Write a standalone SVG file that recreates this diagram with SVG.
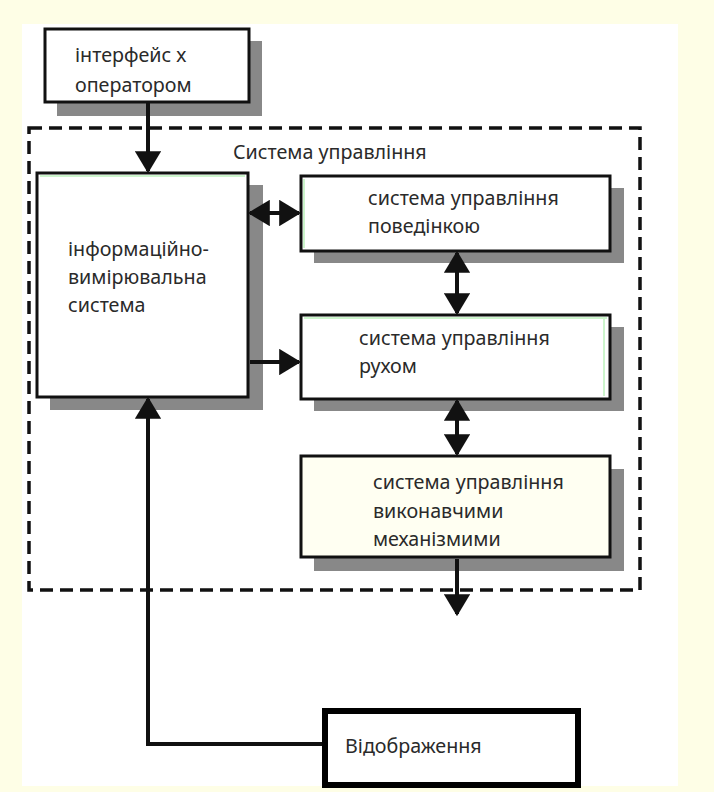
<svg xmlns="http://www.w3.org/2000/svg" width="714" height="792" viewBox="0 0 714 792">
<defs>
<style>
.t{font-family:"Noto Sans","Open Sans","Liberation Sans",sans-serif;font-size:19.7px;fill:#2a2a2a}
.box{fill:#fff;stroke:#111;stroke-width:3}
.inner{fill:none;stroke:#ccf5cc;stroke-width:2}
.sh{fill:#888}
.ln{stroke:#111;stroke-width:4;fill:none}
</style>
<marker id="ah" viewBox="0 0 10 12" refX="9" refY="6" markerWidth="5.5" markerHeight="6.6" orient="auto-start-reverse" markerUnits="strokeWidth">
<path d="M0,0 L10,6 L0,12 z" fill="#111"/>
</marker>
</defs>
<rect x="0" y="0" width="714" height="792" fill="#fefee6"/>
<rect x="22" y="24" width="656" height="762" fill="#fff"/>

<g id="system-boundary">
<rect x="29" y="128" width="611" height="462" fill="none" stroke="#111" stroke-width="3.5" stroke-dasharray="13,7"/>
<text class="t" x="233" y="159">Система управління</text>
</g>

<g id="interface">
<rect class="sh" x="57" y="41" width="205" height="75"/>
<rect class="box" x="45" y="29" width="204" height="73"/>
<text class="t" x="75" y="62">інтерфейс х</text>
<text class="t" x="75" y="92">оператором</text>
</g>

<g id="info">
<rect class="sh" x="50" y="185" width="213" height="225"/>
<rect class="box" x="37" y="173" width="211" height="224"/>
<path class="inner" d="M40,176 H245"/>
<text class="t" x="68" y="256">інформаційно-</text>
<text class="t" x="68" y="284">вимірювальна</text>
<text class="t" x="68" y="312">система</text>
</g>

<g id="behavior">
<rect class="sh" x="314" y="188" width="310" height="75"/>
<rect class="box" x="301" y="176" width="309" height="75"/>
<path class="inner" d="M304,179 V248"/>
<text class="t" x="368" y="205">система управління</text>
<text class="t" x="368" y="233">поведінкою</text>
</g>

<g id="motion">
<rect class="sh" x="314" y="327" width="310" height="84"/>
<rect class="box" x="301" y="315" width="309" height="84"/>
<path class="inner" d="M304,318 H607 M604,318 V396"/>
<text class="t" x="359" y="345">система управління</text>
<text class="t" x="359" y="373">рухом</text>
</g>

<g id="actuators">
<rect class="sh" x="314" y="469" width="310" height="102"/>
<rect class="box" x="301" y="456" width="309" height="101" style="fill:#fffff2"/>
<text class="t" x="373" y="489">система управління</text>
<text class="t" x="373" y="518">виконавчими</text>
<text class="t" x="373" y="546">механізмими</text>
</g>

<g id="display">
<rect x="325" y="711" width="253" height="74" fill="#fff" stroke="#000" stroke-width="6"/>
<text class="t" x="345" y="753">Відображення</text>
</g>

<g id="connectors">
<line class="ln" x1="148" y1="103" x2="148" y2="171" marker-end="url(#ah)"/>
<line class="ln" x1="250" y1="213" x2="299" y2="213" marker-start="url(#ah)" marker-end="url(#ah)"/>
<line class="ln" x1="250" y1="362" x2="299" y2="362" marker-end="url(#ah)"/>
<line class="ln" x1="457" y1="253" x2="457" y2="313" marker-start="url(#ah)" marker-end="url(#ah)"/>
<line class="ln" x1="457" y1="401" x2="457" y2="454" marker-start="url(#ah)" marker-end="url(#ah)"/>
<line class="ln" x1="457" y1="559" x2="457" y2="614" marker-end="url(#ah)"/>
<polyline class="ln" points="322,744 148,744 148,399" marker-end="url(#ah)"/>
</g>
</svg>
